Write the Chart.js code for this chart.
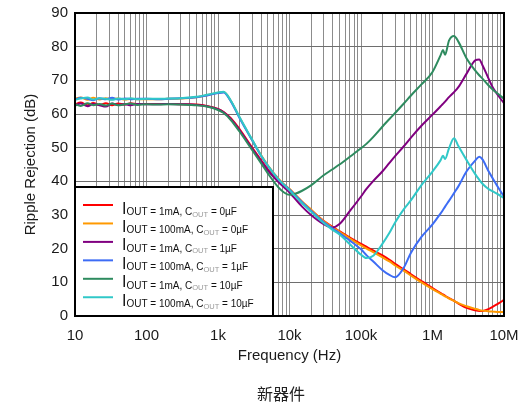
<!DOCTYPE html>
<html>
<head>
<meta charset="utf-8">
<script src="https://cdn.jsdelivr.net/npm/chart.js@4/dist/chart.umd.min.js"></script>
<style>
  html, body { margin: 0; padding: 0; background: #fff; }
  #box { width: 522px; height: 407px; }
</style>
</head>
<body>
<div id="box"><canvas id="rrChart" width="522" height="407"></canvas></div>
<script>
// Tần số dùng chung cho cả 6 đường (Hz)
const freqs = [10, 12, 15, 18, 22, 27, 33, 40, 50, 60, 75,
    100, 150, 200, 300, 500, 700,
    1000, 1200, 1500, 2000, 3000, 4000, 5000, 7000, 8500,
    10000, 12000, 15000, 20000, 30000, 40000, 50000, 70000,
    1e5, 1.2e5, 1.5e5, 2e5, 2.5e5, 3e5, 4e5, 5e5, 7e5,
    1e6, 1.3e6, 1.4e6, 1.5e6, 1.7e6, 2e6, 2.3e6,
    3e6, 4e6, 4.5e6, 5e6, 6e6, 7e6, 8.5e6, 1e7];

// IOUT = 1mA, COUT = 0µF
const red1mA0u = [62.8, 63.4, 62.6, 63.3, 62.7, 63.2, 62.6, 63.1, 62.8, 63.2, 62.9,
    63, 63, 63, 62.9, 62.8, 62.4,
    61.5, 60.6, 58.8, 55.5, 50, 46.3, 43.5, 40.2, 38.7,
    37.5, 35.9, 33.8, 31.5, 28.3, 26.5, 25.2, 23.3,
    21.4, 20.5, 19.4, 18, 16.7, 15.5, 13.8, 12.4, 10.4,
    8.3, 6.8, 6.4, 6, 5.3, 4.5, 3.7,
    2.4, 1.7, 1.5, 1.5, 2, 2.8, 3.8, 4.8];
// IOUT = 100mA, COUT = 0µF
const orange100mA0u = [64.6, 64.9, 64.2, 64.8, 64.3, 64.7, 64.4, 64.6, 64.3, 64.5, 64.4,
    64.4, 64.4, 64.5, 64.6, 65, 65.6,
    66.3, 66.5, 64, 59, 52.3, 47.8, 44.7, 40.8, 39,
    37.8, 36.1, 34, 31.6, 28.2, 26.3, 25, 23,
    21, 20, 18.9, 17.4, 16.2, 15, 13.4, 12, 10,
    8, 6.6, 6.2, 5.8, 5.2, 4.5, 3.8,
    2.9, 2.1, 1.8, 1.6, 1.4, 1.3, 1.2, 1.2];
// IOUT = 1mA, COUT = 1µF
const purple1mA1u = [62.5, 63.1, 62.3, 63, 62.6, 62.2, 63.1, 62.7, 62.9, 62.6, 63,
    62.9, 62.9, 63, 62.9, 62.7, 62.3,
    61.4, 60.5, 58.6, 55.2, 49.7, 46, 43.2, 39.8, 38.1,
    36.7, 34.8, 32.5, 30, 27.3, 26.3, 27.3, 31.2,
    35.5, 37.8, 40.2, 43, 45.5, 47.5, 50.5, 53, 56.5,
    59.8, 62.3, 63, 63.7, 65, 66.5, 68,
    72, 76, 76.2, 74.5, 70.8, 67.8, 65.2, 63.2];
// IOUT = 100mA, COUT = 1µF
const blue100mA1u = [64.3, 64.8, 64.5, 64.1, 64.7, 64.4, 64.8, 64.3, 64.6, 64.4, 64.5,
    64.5, 64.4, 64.5, 64.7, 65, 65.5,
    66.2, 66.4, 63.9, 58.8, 52.2, 47.6, 44.5, 40.6, 38.9,
    37.6, 35.9, 33.8, 31.3, 27.9, 26, 24.6, 22.4,
    19.8, 18, 16.1, 13.6, 12.2, 11.5, 14.5, 18.8, 23.5,
    27.2, 30.5, 31.5, 32.5, 34.2, 36.5, 38.5,
    43, 46.3, 47.3, 46.5, 43.2, 40.8, 37.8, 35.5];
// IOUT = 1mA, COUT = 10µF
const green1mA10u = [62.9, 62.4, 63.2, 62.6, 63, 62.5, 63.1, 62.6, 62.9, 63.1, 62.7,
    62.9, 62.8, 62.9, 62.8, 62.6, 62.2,
    61.2, 60.3, 58.3, 54.8, 49.3, 45.4, 42.3, 38.2, 36.6,
    36, 36.3, 37.2, 38.8, 41.8, 43.6, 45, 47.3,
    49.8, 51.2, 53.3, 56.3, 58.5, 60.3, 63.2, 65.5, 68.8,
    72.5, 77.5, 79, 77.6, 81.8, 83.2, 81.5,
    76.5, 72.8, 71.5, 70.5, 68.6, 67.2, 65.8, 64.5];
// IOUT = 100mA, COUT = 10µF
const cyan100mA10u = [64.2, 64.6, 64.9, 64.3, 64.7, 64.5, 64.2, 64.6, 64.4, 64.7, 64.4,
    64.5, 64.5, 64.6, 64.7, 65.1, 65.7,
    66.4, 66.6, 64.1, 59.1, 52.4, 47.7, 44.6, 40.6, 38.8,
    37.4, 35.6, 33.5, 31, 27.6, 25.6, 24.2, 21.3,
    18.2, 17.2, 18, 21.5, 24.7, 27.8, 31.8, 34.4, 38.9,
    42.9, 46.3, 47.6, 46.6, 49.8, 52.8, 50.5,
    46.3, 42, 40.5, 39.3, 37.8, 37, 36, 35];

// Nhãn chú thích
const currents = ["1mA", "100mA", "1mA", "100mA", "1mA", "100mA"];
const caps = ["0µF", "0µF", "1µF", "1µF", "10µF", "10µF"];
const colors = ["#ff0000", "#ff9900", "#800080", "#3d6cf5", "#2e8b5f", "#30c8c8"];
const series = [red1mA0u, orange100mA0u, purple1mA1u, blue100mA1u, green1mA10u, cyan100mA10u];

// Nhãn trục x
const decadeLabels = { 10: "10", 100: "100", 1000: "1k", 10000: "10k", 100000: "100k", 1000000: "1M", 10000000: "10M" };

const FONT = "'Liberation Sans', Arial, sans-serif";

// đường sau vẽ đè lên đường trước (cyan nằm trên cùng)
var datasets = series.map((vals, i) => ({
    label: "IOUT = " + currents[i] + ", COUT = " + caps[i],
    data: vals.map((v, k) => ({ x: freqs[k], y: v })),
    borderColor: colors[i],
    backgroundColor: colors[i],
    borderWidth: 2,
    pointRadius: 0,
    fill: false,
    order: series.length - i,
    cubicInterpolationMode: "monotone",
}));

// Khung đen, hộp chú thích và chú thích chữ Hán bên dưới
const frameLegend = {
    id: "frameLegend",
    afterDatasetsDraw(chart) {
        const ctx = chart.ctx;
        const a = chart.chartArea;
        ctx.save();
        ctx.strokeStyle = "#000";
        ctx.lineWidth = 2;
        ctx.strokeRect(a.left, a.top, a.right - a.left, a.bottom - a.top);

        const bx = a.left, by = a.bottom - 129, bw = 198, bh = 129;
        ctx.fillStyle = "#fff";
        ctx.fillRect(bx, by, bw, bh);
        ctx.strokeRect(bx, by, bw, bh);

        for (let i = 0; i < series.length; i++) {
            const y = by + 18 + i * 18.45;
            ctx.strokeStyle = colors[i];
            ctx.lineWidth = 2;
            ctx.beginPath();
            ctx.moveTo(bx + 8, y);
            ctx.lineTo(bx + 38, y);
            ctx.stroke();

            let x = bx + 47;
            const base = y + 10;
            ctx.fillStyle = "#111";
            ctx.textBaseline = "alphabetic";
            ctx.textAlign = "left";
            ctx.font = "16px " + FONT;
            ctx.fillText("I", x, base - 1.5);
            x += ctx.measureText("I").width;
            ctx.font = "10px " + FONT;
            ctx.fillText("OUT = " + currents[i] + ", C", x, base);
            x += ctx.measureText("OUT = " + currents[i] + ", C").width;
            ctx.font = "7.5px " + FONT;
            ctx.fillStyle = "#999";
            ctx.fillText("OUT", x, base + 1.5);
            x += ctx.measureText("OUT").width;
            ctx.font = "10px " + FONT;
            ctx.fillStyle = "#111";
            ctx.fillText(" = " + caps[i], x, base);
        }
        ctx.restore();
    },
    afterDraw(chart) {
        const ctx = chart.ctx;
        ctx.save();
        ctx.fillStyle = "#222";
        ctx.font = "16px 'Noto Sans CJK SC', sans-serif";
        ctx.textAlign = "center";
        ctx.textBaseline = "middle";
        ctx.fillText("新器件", 281, 394);
        ctx.restore();
    },
};

var ctx = document.getElementById("rrChart").getContext("2d");
var rrChart = new Chart(ctx, {
    type: "line",
    data: { datasets: datasets },
    plugins: [frameLegend],
    options: {
        responsive: false,
        animation: false,
        layout: { padding: { left: 0, top: 13, right: 18, bottom: 40 } },
        plugins: { legend: { display: false }, tooltip: { enabled: false } },
        scales: {
            x: {
                type: "logarithmic",
                min: 10,
                max: 1e7,
                afterFit: (s) => {
                    s.height = 51;
                    s.paddingLeft = 0;
                    s.paddingRight = 0;
                },
                afterBuildTicks: (s) => {
                    // vạch lưới 1..9 mỗi thập phân
                    const t = [];
                    for (let d = 10; d < 1e7; d *= 10) {
                        for (let m = 1; m < 10; m++) t.push({ value: d * m });
                    }
                    t.push({ value: 1e7 });
                    s.ticks = t;
                },
                grid: { color: "#8c8c8c", lineWidth: 1, drawTicks: false },
                border: { display: false },
                ticks: {
                    autoSkip: false,
                    maxRotation: 0,
                    padding: 11,
                    color: "#1a1a1a",
                    font: { family: FONT, size: 15 },
                    callback: (v) => decadeLabels[Math.round(v)] || "",
                },
                title: {
                    display: true,
                    text: "Frequency (Hz)",
                    color: "#1a1a1a",
                    font: { family: FONT, size: 15 },
                    padding: { top: 0, bottom: 2 },
                },
            },
            y: {
                min: 0,
                max: 90,
                afterFit: (s) => {
                    s.width = 75;
                    s.paddingTop = 0;
                    s.paddingBottom = 0;
                },
                grid: { color: "#6e6e6e", lineWidth: 1, drawTicks: false },
                border: { display: false },
                ticks: {
                    stepSize: 10,
                    padding: 7,
                    color: "#1a1a1a",
                    font: { family: FONT, size: 15 },
                },
                title: {
                    display: true,
                    text: "Ripple Rejection (dB)",
                    color: "#1a1a1a",
                    font: { family: FONT, size: 15 },
                    padding: { top: 22, bottom: 0 },
                },
            },
        },
    },
});
</script>
</body>
</html>
